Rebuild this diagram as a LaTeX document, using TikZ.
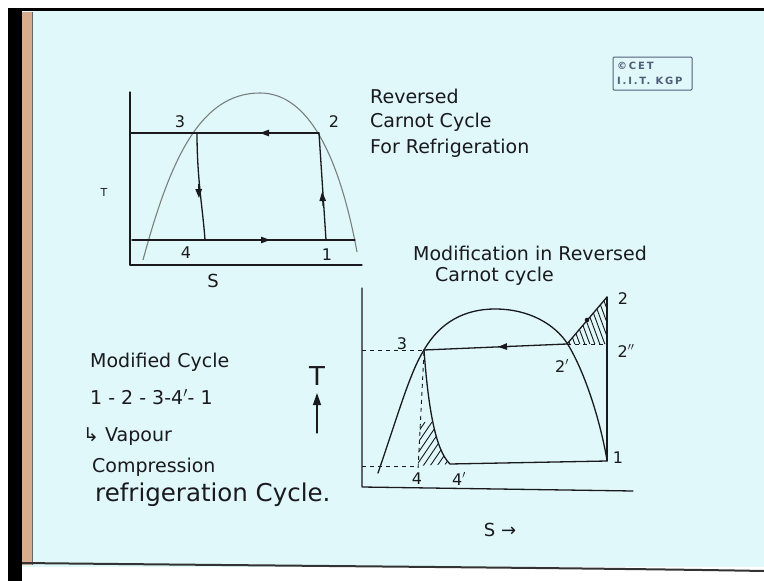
\documentclass[tikz,border=0pt]{standalone}
\usepackage{fontspec}
\setmainfont{DejaVu Sans}
\usetikzlibrary{arrows.meta}
\definecolor{paper}{RGB}{224,248,249}
\definecolor{ink}{RGB}{25,25,30}
\definecolor{dome}{RGB}{120,128,128}
\definecolor{edge}{RGB}{214,172,140}
\definecolor{cet}{RGB}{80,95,120}
\begin{document}
\begin{tikzpicture}[x=1pt,y=-1pt,
  line/.style={ink,line width=1.3pt,line cap=round,line join=round},
  dsh/.style={ink,line width=0.9pt,dash pattern=on 4pt off 4pt},
  hatch/.style={ink,line width=0.9pt},
  tip/.style={ink,line width=1pt,-{Triangle[length=9pt,width=6.5pt]}},
  hand/.style={ink,font=\fontsize{19}{21}\selectfont,inner sep=0pt,anchor=west},
  lbl/.style={ink,font=\fontsize{16}{18}\selectfont,inner sep=1pt},
  stamptext/.style={cet,font=\fontsize{10}{11}\selectfont\bfseries\addfontfeature{LetterSpace=18},anchor=west,inner sep=0pt}]
\useasboundingbox (0,0) rectangle (764,581);
% ---------- background ----------
\fill[white] (0,0) rectangle (764,581);
\fill[black] (8,9) rectangle (22,581);
\fill[black] (8,8) rectangle (764,11);
\fill[paper] (22,11) rectangle (764,567);
\fill[edge] (22,12) rectangle (32,565);
\draw[black!60,line width=1pt] (32,12) -- (32,565);
\draw[black!80,line width=2pt] (22,563) .. controls (300,566) and (600,568) .. (764,571);
% ---------- CET stamp ----------
\node[draw=cet,line width=1pt,rounded corners=1pt,minimum width=79pt,minimum height=33pt,inner sep=0pt] (stamp) at (652.5,73.5) {};
\node[stamptext] (cet1) at (617,66) {©CET};
\node[stamptext] (cet2) at (617,81) {I.I.T. KGP};
% ---------- top-left diagram ----------
\draw[line] (130,92) -- (130,265) -- (362,265);
\draw[dome,line width=1.1pt] (143,260) .. controls (170,160) and (200,93) .. (260,93)
  .. controls (310,93) and (340,160) .. (357,252);
\draw[line] (130,133) -- (319,133);
\draw[tip] (272,133) -- (260,133);
\draw[line] (319,133) -- (326,240);
\draw[tip] (323,206) -- (322.1,192);
\draw[line] (197,133) .. controls (197,180) and (203,210) .. (205,240);
\draw[tip] (198.5,184) -- (199,198);
\draw[line] (132,240) -- (355,240);
\draw[tip] (256,240) -- (270,240);
\node[lbl] (p3a) at (180,122) {3};
\node[lbl] (p2a) at (334,122) {2};
\node[lbl] (p4a) at (186,253) {4};
\node[lbl] (p1a) at (327,255) {1};
\node[lbl,font=\fontsize{18}{20}\selectfont] (sa) at (213,281) {S};
\node[lbl,font=\fontsize{11}{12}\selectfont] (ta) at (104,192) {T};
% ---------- titles ----------
\node[hand] (t1) at (370,96) {Reversed};
\node[hand] (t2) at (370,122) {Carnot Cycle};
\node[hand] (t3) at (370,148) {For Refrigeration};
\node[hand] (m1) at (413,253) {Modification in Reversed};
\node[hand] (m2) at (435,276) {Carnot cycle};
% ---------- left notes ----------
\node[hand] (n1) at (90,362) {Modified Cycle};
\node[hand] (n2) at (90,397) {1 - 2 - 3-4$'$- 1};
\node[hand] (n3) at (83,437) {↳ Vapour};
\node[hand] (n4) at (92,467) {Compression};
\node[hand,font=\fontsize{24.5}{26}\selectfont] (n5) at (95,495) {refrigeration Cycle.};
\node[hand,anchor=center,font=\fontsize{26}{28}\selectfont] (tb) at (317,376) {T};
\coordinate (tbl) at (317,433);
\coordinate (tbh) at (317,393);
\draw[line,-{Triangle[length=12pt,width=8pt]}] (tbl) -- (tbh);
% ---------- bottom-right diagram ----------
\begin{scope}
\clip (567,344) -- (607,297) -- (607,344) -- cycle;
\foreach \x in {540,545,...,615} \draw[hatch] (\x,290) -- (\x+22,350);
\end{scope}
\begin{scope}
\clip (424,352) .. controls (428,405) and (435,450) .. (450,464) -- (418,466) -- cycle;
\foreach \x in {370,377,...,470} \draw[hatch] (\x,472) -- (\x+34,422);
\end{scope}
\draw[line] (362,288) -- (362,487) -- (633,491);
\draw[line] (378,473) .. controls (398,415) and (410,372) .. (424,350)
  .. controls (440,322) and (465,309) .. (495,309)
  .. controls (530,309) and (555,325) .. (567,343)
  .. controls (585,372) and (600,420) .. (607,460);
\draw[line] (424,350) -- (567,344);
\draw[tip] (511,346.4) -- (498,346.9);
\draw[dsh] (362,350) -- (424,350);
\draw[line] (607,461) -- (607,297);
\draw[line] (567,344) -- (607,297);
\fill[ink] (587,320) circle (2.3pt);
\draw[dsh] (567,344) -- (607,344);
\draw[line] (424,350) .. controls (428,405) and (435,450) .. (450,464);
\draw[line] (450,464) -- (607,461);
\draw[dsh] (362,466) -- (418,466);
\draw[dsh] (424,352) -- (418,470);
\node[lbl] (p3) at (402,344) {3};
\node[lbl] (p2) at (623,299) {2};
\node[lbl] (p2dd) at (626,351) {2$''$};
\node[lbl] (p2d) at (562,366) {2$'$};
\node[lbl] (p1) at (618,458) {1};
\node[lbl] (p4) at (417,479) {4};
\node[lbl] (p4d) at (459,479) {4$'$};
\node[lbl,font=\fontsize{18}{20}\selectfont] (sb) at (500,530) {S →};
\end{tikzpicture}
\end{document}
